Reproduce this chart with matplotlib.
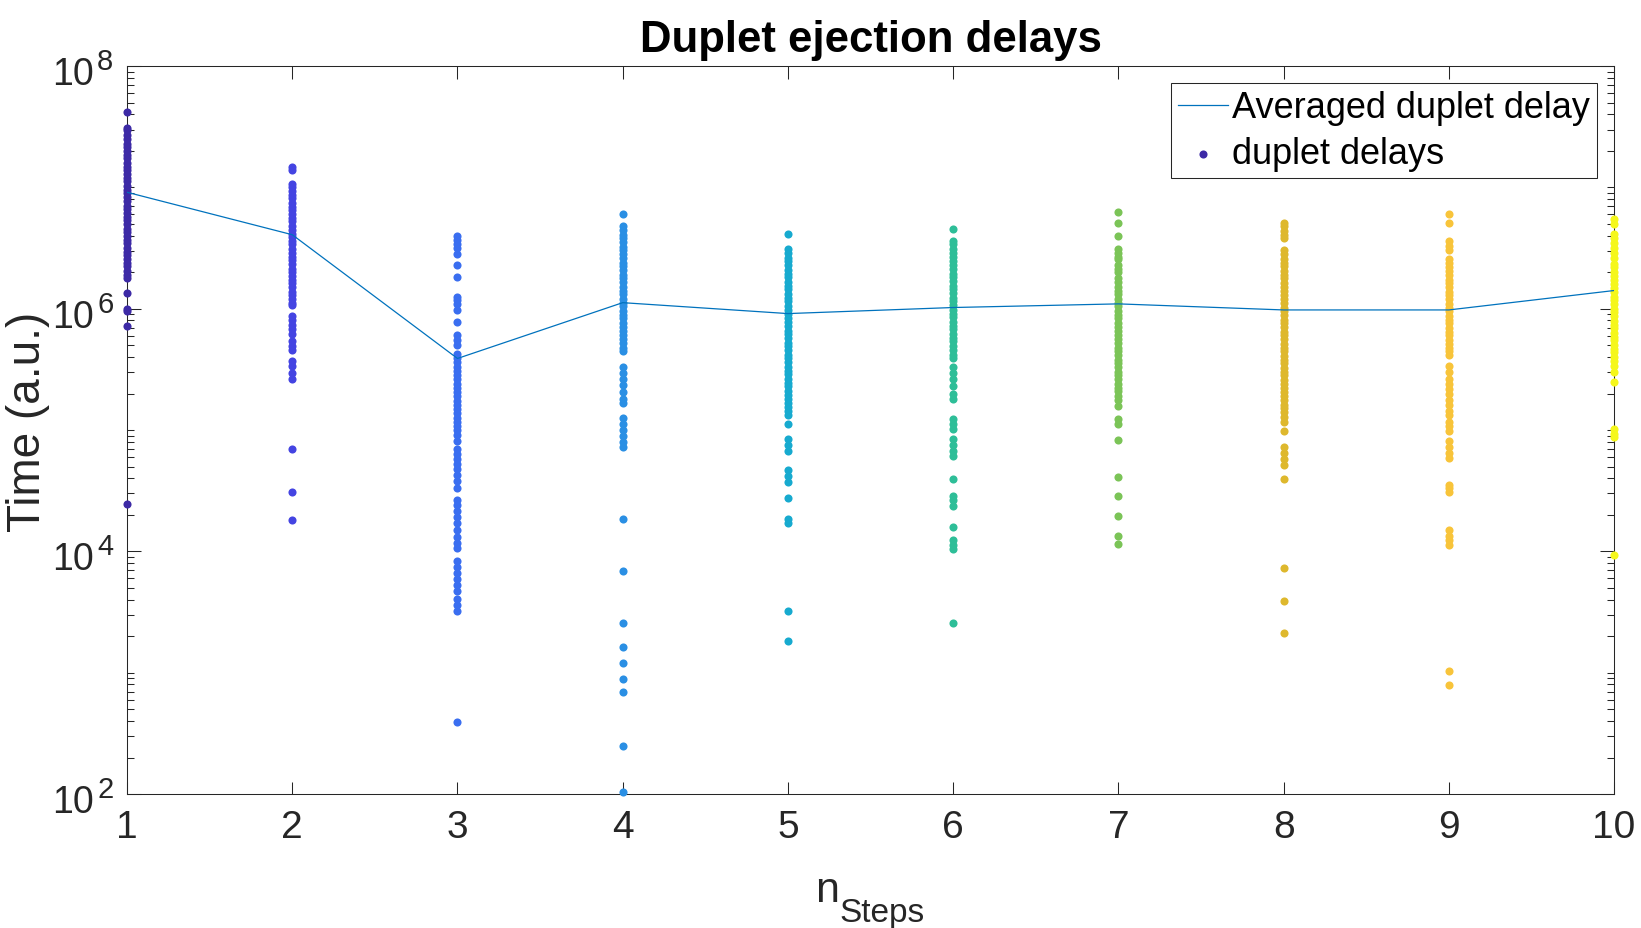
import numpy as np
import matplotlib
matplotlib.use("Agg")
import matplotlib.pyplot as plt
from matplotlib.ticker import FixedLocator, LogLocator, NullFormatter
from matplotlib.transforms import blended_transform_factory, offset_copy

plt.rcParams['font.family'] = ['Liberation Sans', 'DejaVu Sans']

# =========================
# DATA (log10 of delay)
# =========================

n_steps = [1, 2, 3, 4, 5, 6, 7, 8, 9, 10]

log_delays_n1 = [7.62, 7.49, 7.47, 7.43, 7.40, 7.36, 7.33, 7.30, 7.27, 7.24, 7.20, 7.17,
                 7.14, 7.11, 7.08, 7.05, 7.01, 6.98, 6.95, 6.92, 6.89, 6.85, 6.82, 6.79,
                 6.76, 6.73, 6.70, 6.66, 6.63, 6.60, 6.57, 6.54, 6.50, 6.47, 6.44, 6.41,
                 6.38, 6.35, 6.31, 6.28, 6.25, 6.13, 6.00, 5.98, 5.86, 4.39]
log_delays_n2 = [7.17, 7.14, 7.03, 7.00, 6.97, 6.94, 6.91, 6.87, 6.84, 6.81, 6.78, 6.75,
                 6.72, 6.68, 6.65, 6.62, 6.59, 6.56, 6.53, 6.49, 6.46, 6.43, 6.40, 6.37,
                 6.33, 6.30, 6.27, 6.24, 6.21, 6.18, 6.14, 6.11, 6.08, 6.05, 6.03, 5.94,
                 5.91, 5.87, 5.83, 5.79, 5.73, 5.69, 5.66, 5.57, 5.53, 5.47, 5.42, 4.84,
                 4.49, 4.26]
log_delays_n3 = [6.60, 6.57, 6.53, 6.50, 6.45, 6.36, 6.26, 6.10, 6.07, 6.04, 5.99, 5.89,
                 5.78, 5.74, 5.70, 5.63, 5.59, 5.56, 5.52, 5.49, 5.45, 5.42, 5.38, 5.35,
                 5.31, 5.28, 5.24, 5.21, 5.17, 5.14, 5.10, 5.07, 5.03, 5.00, 4.96, 4.91,
                 4.84, 4.80, 4.76, 4.72, 4.68, 4.63, 4.58, 4.52, 4.42, 4.38, 4.33, 4.28,
                 4.23, 4.18, 4.12, 4.07, 4.03, 3.92, 3.87, 3.82, 3.77, 3.72, 3.67, 3.61,
                 3.56, 3.51, 2.59]
log_delays_n4 = [6.78, 6.68, 6.65, 6.61, 6.58, 6.55, 6.51, 6.48, 6.45, 6.42, 6.38, 6.35,
                 6.32, 6.28, 6.25, 6.22, 6.18, 6.15, 6.12, 6.08, 6.05, 6.02, 5.98, 5.95,
                 5.92, 5.88, 5.85, 5.82, 5.78, 5.75, 5.72, 5.68, 5.65, 5.52, 5.47, 5.42,
                 5.37, 5.31, 5.26, 5.22, 5.10, 5.05, 5.00, 4.95, 4.90, 4.86, 4.27, 3.84,
                 3.41, 3.21, 3.08, 2.95, 2.84, 2.40, 2.02]
log_delays_n5 = [6.62, 6.49, 6.46, 6.42, 6.39, 6.36, 6.32, 6.29, 6.26, 6.22, 6.19, 6.16,
                 6.12, 6.09, 6.06, 6.02, 5.99, 5.96, 5.92, 5.89, 5.86, 5.82, 5.79, 5.76,
                 5.72, 5.69, 5.66, 5.62, 5.59, 5.56, 5.52, 5.49, 5.46, 5.42, 5.39, 5.36,
                 5.32, 5.29, 5.26, 5.22, 5.19, 5.16, 5.12, 5.05, 4.93, 4.88, 4.83, 4.67,
                 4.62, 4.57, 4.44, 4.27, 4.23, 3.51, 3.26]
log_delays_n6 = [6.66, 6.56, 6.53, 6.49, 6.46, 6.43, 6.39, 6.36, 6.33, 6.29, 6.26, 6.23,
                 6.19, 6.16, 6.13, 6.09, 6.06, 6.03, 5.99, 5.96, 5.93, 5.89, 5.86, 5.83,
                 5.79, 5.76, 5.73, 5.69, 5.66, 5.62, 5.59, 5.52, 5.47, 5.42, 5.36, 5.30,
                 5.26, 5.09, 5.05, 5.01, 4.93, 4.88, 4.83, 4.79, 4.60, 4.46, 4.42, 4.37,
                 4.20, 4.09, 4.05, 4.02, 3.41]
log_delays_n7 = [6.80, 6.71, 6.60, 6.49, 6.46, 6.43, 6.41, 6.36, 6.33, 6.30, 6.25, 6.22,
                 6.18, 6.15, 6.12, 6.08, 6.05, 6.02, 5.98, 5.95, 5.92, 5.88, 5.85, 5.82,
                 5.78, 5.75, 5.72, 5.68, 5.65, 5.62, 5.58, 5.55, 5.52, 5.48, 5.45, 5.42,
                 5.38, 5.35, 5.32, 5.28, 5.25, 5.20, 5.09, 5.05, 4.92, 4.61, 4.46, 4.29,
                 4.13, 4.06]
log_delays_n8 = [6.71, 6.68, 6.64, 6.61, 6.58, 6.48, 6.45, 6.41, 6.38, 6.35, 6.31, 6.28,
                 6.25, 6.21, 6.18, 6.15, 6.11, 6.08, 6.05, 6.01, 5.98, 5.95, 5.91, 5.88,
                 5.85, 5.81, 5.78, 5.75, 5.71, 5.68, 5.65, 5.61, 5.58, 5.55, 5.51, 5.48,
                 5.45, 5.41, 5.38, 5.35, 5.31, 5.28, 5.25, 5.21, 5.18, 5.15, 5.11, 5.07,
                 4.99, 4.86, 4.81, 4.76, 4.71, 4.60, 3.86, 3.59, 3.33]
log_delays_n9 = [6.78, 6.71, 6.56, 6.52, 6.48, 6.41, 6.38, 6.34, 6.31, 6.28, 6.24, 6.21,
                 6.18, 6.14, 6.11, 6.08, 6.04, 6.01, 5.98, 5.94, 5.91, 5.88, 5.84, 5.81,
                 5.78, 5.74, 5.71, 5.68, 5.65, 5.62, 5.53, 5.48, 5.42, 5.38, 5.34, 5.30,
                 5.25, 5.21, 5.16, 5.12, 5.07, 5.03, 4.99, 4.91, 4.86, 4.81, 4.77, 4.55,
                 4.52, 4.49, 4.18, 4.13, 4.09, 4.05, 3.01, 2.90]
log_delays_n10 = [6.74, 6.70, 6.62, 6.58, 6.54, 6.50, 6.46, 6.42, 6.37, 6.34, 6.30, 6.27,
                  6.24, 6.20, 6.17, 6.14, 6.10, 6.07, 6.04, 6.00, 5.97, 5.94, 5.90, 5.87,
                  5.84, 5.80, 5.77, 5.74, 5.70, 5.67, 5.64, 5.60, 5.57, 5.53, 5.48, 5.40,
                  5.01, 4.97, 4.94, 3.97]

log_delays = [log_delays_n1, log_delays_n2, log_delays_n3, log_delays_n4, log_delays_n5,
              log_delays_n6, log_delays_n7, log_delays_n8, log_delays_n9, log_delays_n10]

log_avg_delay = [6.96, 6.61, 5.59, 6.05, 5.96, 6.01, 6.04, 5.99, 5.99, 6.15]

ytick_vals = [1e2, 1e4, 1e6, 1e8]
ytick_exps = ['2', '4', '6', '8']

# parula-like colours, one per n
col_colors = ['#3D2AA6', '#4444E2', '#3A6EF0', '#2A8FE4', '#17AACF',
              '#2EBE98', '#7BC457', '#DEB82D', '#F8C43A', '#F5F71B']

# =========================
# PLOT
# =========================

fig = plt.figure(figsize=(16.41, 9.29), dpi=100)
ax = fig.add_axes([0.0774, 0.1442, 0.9062, 0.7836])

axis_col = '#262626'

line, = ax.plot(n_steps, [10 ** v for v in log_avg_delay], color='#0072BD',
                lw=0.9, zorder=4, label='Averaged duplet delay')

dots = []
for n, vals, c in zip(n_steps, log_delays, col_colors):
    h = ax.scatter(np.full(len(vals), n), [10 ** v for v in vals], s=34, color=c,
                   linewidths=0, clip_on=False, zorder=3)
    dots.append(h)

ax.set_yscale('log')
ax.set_xlim(1, 10)
ax.set_ylim(1e2, 1e8)
ax.set_xticks(n_steps)
ax.yaxis.set_major_locator(FixedLocator(ytick_vals))
ax.yaxis.set_major_formatter(NullFormatter())
ax.yaxis.set_minor_locator(LogLocator(base=10, subs=np.arange(1, 10), numticks=20))
ax.yaxis.set_minor_formatter(NullFormatter())

ax.tick_params(which='both', direction='in', top=True, right=True,
               colors=axis_col, labelcolor=axis_col, width=0.75, labelsize=28)
ax.tick_params(axis='y', which='major', length=10)
ax.tick_params(axis='y', which='minor', length=5)
ax.tick_params(axis='x', which='major', length=9, pad=11)
for s in ax.spines.values():
    s.set_color(axis_col)
    s.set_linewidth(0.75)
    s.set_zorder(2)

# y tick labels as 10 + raised exponent (MATLAB style, bigger exponent than mathtext)
ytrans = blended_transform_factory(ax.transAxes, ax.transData)
for v, e in zip(ytick_vals, ytick_exps):
    ax.text(0, v, '10', transform=offset_copy(ytrans, fig=fig, x=-33, y=-18, units='dots'),
            ha='right', va='baseline', fontsize=27, color=axis_col)
    ax.text(0, v, e, transform=offset_copy(ytrans, fig=fig, x=-30, y=-3, units='dots'),
            ha='left', va='baseline', fontsize=21, color=axis_col)

ax.set_title('Duplet ejection delays', fontsize=31.5, fontweight='bold', pad=11)
ax.set_ylabel('Time (a.u.)', fontsize=33, color=axis_col)
ax.yaxis.set_label_coords(-0.052, 0.512)

# x label: n with subscript Steps
fig.text(815 / 1641, 1 - 902 / 929, 'n', fontsize=31, color=axis_col,
         ha='left', va='baseline')
fig.text(839 / 1641, 1 - 922 / 929, 'Steps', fontsize=24, color=axis_col,
         ha='left', va='baseline')

leg = ax.legend([line, dots[0]], ['Averaged duplet delay', 'duplet delays'],
                loc='upper right', bbox_to_anchor=(0.9886, 0.9767), borderaxespad=0,
                fontsize=26, fancybox=False, framealpha=1, edgecolor=axis_col,
                handlelength=1.385, handletextpad=0.11, labelspacing=0.3,
                borderpad=0.2, scatterpoints=1)
leg.get_frame().set_linewidth(0.75)

fig.savefig('out.png', dpi=100)
